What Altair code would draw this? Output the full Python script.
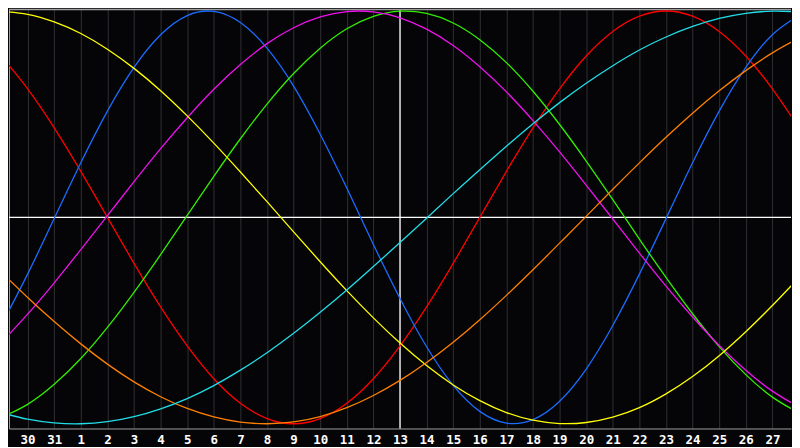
import json
import altair as alt
import pandas as pd

# day index 0..30 along the x axis; today is index 15 (day 13)
DAY_INDEX = list(range(31))
DAY_LABELS = ["29", "30", "31", "1", "2", "3", "4", "5", "6", "7", "8", "9", "10",
              "11", "12", "13", "14", "15", "16", "17", "18", "19", "20", "21",
              "22", "23", "24", "25", "26", "27", "28"]
TODAY_INDEX = 15

SERIES = ["Emotional", "Physical", "Intellectual", "Intuitive", "Aesthetic", "Awareness", "Spiritual"]
COLORS = ["#ff0000", "#1a6cff", "#33ee00", "#ee11ee", "#ffff00", "#ff8000", "#22dde8"]

# values in percent, read at each day index
EMOTIONAL = [78.2, 62.3, 43.4, 22.3, 0, -22.3, -43.4, -62.3, -78.2, -90.1, -97.5, -100, -97.5,
             -90.1, -78.2, -62.3, -43.4, -22.3, 0, 22.3, 43.4, 62.3, 78.2, 90.1, 97.5, 100,
             97.5, 90.1, 78.2, 62.3, 43.4]
PHYSICAL = [-52.4, -27.5, -0.5, 26.5, 51.5, 72.7, 88.5, 97.8, 99.8, 94.4, 82.0, 63.6, 40.3,
            14.2, -13.1, -39.3, -62.7, -81.4, -94.0, -99.7, -98.0, -89.1, -73.5, -52.4,
            -27.5, -0.6, 26.5, 51.5, 72.7, 88.5, 97.8]
INTELLECTUAL = [-97.0, -90.6, -80.9, -68.4, -53.3, -36.3, -18.0, 1.0, 19.9, 38.1, 54.9, 69.7,
                82.0, 91.4, 97.4, 99.9, 98.8, 94.2, 86.1, 75.0, 61.1, 45.0, 27.3, 8.6, -10.5,
                -29.1, -46.7, -62.6, -76.2, -87.1, -94.8]
INTUITIVE = [-60.8, -46.9, -31.7, -15.6, 0.8, 17.3, 33.3, 48.3, 62.1, 74.1, 84.2, 91.9, 97.1,
             99.7, 99.6, 96.7, 91.2, 83.3, 73.0, 60.8, 46.9, 31.7, 15.6, -0.8, -17.3, -33.3,
             -48.3, -62.1, -74.1, -84.2, -91.9]
AESTHETIC = [99.9, 98.4, 94.7, 89.1, 81.5, 72.2, 61.4, 49.2, 36.0, 22.0, 7.6, -7.0, -21.5,
             -35.5, -48.7, -60.9, -71.8, -81.2, -88.8, -94.6, -98.3, -99.9, -99.4, -96.8,
             -92.2, -85.5, -77.1, -67.0, -55.4, -42.7, -29.1]
AWARENESS = [-26.4, -38.8, -50.5, -61.3, -71.1, -79.7, -86.9, -92.6, -96.7, -99.2, -100.0,
             -99.1, -96.5, -92.2, -86.3, -79.0, -70.3, -60.5, -49.6, -37.8, -25.4, -12.5, 0.5,
             13.6, 26.4, 38.8, 50.5, 61.3, 71.1, 79.7, 86.9]
SPIRITUAL = [-94.6, -97.8, -99.6, -100.0, -99.0, -96.6, -92.8, -87.8, -81.5, -74.0, -65.6,
             -56.2, -46.0, -35.2, -23.8, -12.2, -0.4, 11.5, 23.1, 34.5, 45.4, 55.6, 65.0, 73.5,
             81.1, 87.4, 92.5, 96.4, 98.9, 99.9, 99.6]

VALUES = [EMOTIONAL, PHYSICAL, INTELLECTUAL, INTUITIVE, AESTHETIC, AWARENESS, SPIRITUAL]

X_DOMAIN = [0.3, 29.7]
Y_DOMAIN = [-102.3, 100.7]

rows = []
for name, vals in zip(SERIES, VALUES):
    for i, v in zip(DAY_INDEX, vals):
        rows.append({"i": i, "v": v, "series": name})
df = pd.DataFrame(rows)

label_expr = json.dumps(DAY_LABELS) + "[round(datum.value)]"

x_axis = alt.Axis(
    values=DAY_INDEX[1:30], labelExpr=label_expr, grid=True, gridColor="#303034",
    gridWidth=1, ticks=False, domain=True, domainColor="#a0a0a0", labelColor="#ffffff",
    labelFont="DejaVu Sans Mono", labelFontWeight="bold", labelFontSize=12.5,
    labelPadding=5, labelFlush=False, labelOverlap=False, title=None,
)
y_axis = alt.Axis(labels=False, ticks=False, grid=False, domain=True,
                  domainColor="#a0a0a0", title=None)

xs = alt.Scale(domain=X_DOMAIN, nice=False, zero=False)
ys = alt.Scale(domain=Y_DOMAIN, nice=False, zero=False)

curves = alt.Chart(df).mark_line(strokeWidth=1.3, interpolate="natural", clip=True).encode(
    x=alt.X("i:Q", scale=xs, axis=x_axis),
    y=alt.Y("v:Q", scale=ys, axis=y_axis),
    color=alt.Color("series:N", scale=alt.Scale(domain=SERIES, range=COLORS), legend=None),
    detail="series:N",
)

today = alt.Chart(pd.DataFrame({"i": [TODAY_INDEX]})).mark_rule(
    color="#ffffff", strokeWidth=1.3).encode(x=alt.X("i:Q", scale=xs, axis=x_axis))
midline = alt.Chart(pd.DataFrame({"v": [0]})).mark_rule(
    color="#ffffff", strokeWidth=1.3).encode(y=alt.Y("v:Q", scale=ys, axis=y_axis))
topline = alt.Chart(pd.DataFrame({"v": [Y_DOMAIN[1]]})).mark_rule(
    color="#a0a0a0", strokeWidth=1.5).encode(y=alt.Y("v:Q", scale=ys, axis=y_axis))

chart = alt.layer(today, midline, topline, curves).properties(
    width=784, height=420, background="#050508", padding=0
).configure_view(stroke=None)

chart.save("out.html", embed_options={"renderer": "svg", "actions": False})
